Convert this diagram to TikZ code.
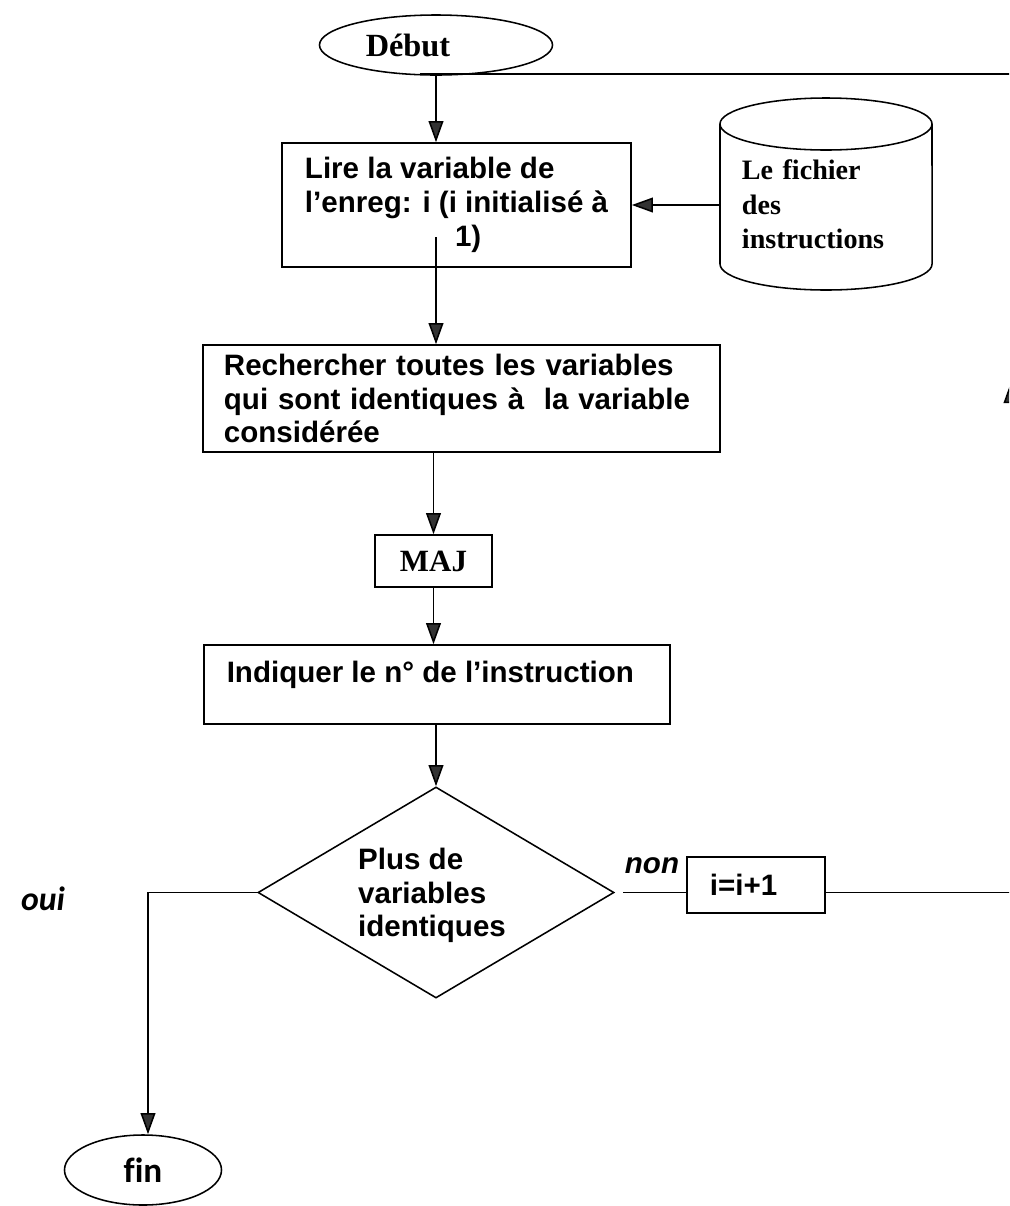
\documentclass[tikz,border=0pt]{standalone}
\usepackage{fontspec}
\setmainfont{Liberation Sans}
\newfontfamily\serfont[Ligatures=NoCommon]{Liberation Serif}
\newfontfamily\calfont[Ligatures=NoCommon]{Carlito}
\usetikzlibrary{shapes.geometric,arrows.meta}
\newcommand\bxfont{\fontsize{21}{24}\selectfont\bfseries}
\newcommand\sbxfont{\serfont\fontsize{20}{24.5}\selectfont\bfseries}
\begin{document}
\begin{tikzpicture}[x=0.025cm,y=-0.025cm,line width=1.1pt,
  arr/.style={-{Triangle[length=15pt,width=10.5pt,fill=black!80]}},
  box/.style={draw,rectangle,inner sep=0pt,font=\bxfont,align=left},
  term/.style={draw,ellipse,inner sep=0pt}]
\useasboundingbox (0,0) rectangle (1009,1206);
\clip (0,0) rectangle (1009,1206);

% start and end
\node[term,minimum width=5.825cm,minimum height=1.5cm,font=\serfont\fontsize{23}{24}\selectfont\bfseries] (deb) at (436,45) {Début\hspace*{1.4cm}};
\node[term,minimum width=3.925cm,minimum height=1.75cm,font=\calfont\fontsize{25}{26}\selectfont\bfseries] (fin) at (143,1170) {fin};

% processing steps
\node[box,minimum width=8.725cm,minimum height=3.1cm] (b1) at (456.5,205)
  {Lire la variable de\\ l’enreg: i (i initialisé à\\ \hspace*{3.75cm}1)};
\node[box,text width=11.875cm,inner xsep=0.525cm,minimum height=2.675cm] (b2) at (461.5,398.5)
  {Rechercher toutes les variables\\ qui sont identiques à~ la variable\\ considérée};
\node[box,minimum width=2.925cm,minimum height=1.3cm,font=\serfont\fontsize{22}{24}\selectfont\bfseries] (maj) at (433.5,561) {MAJ};
\node[box,minimum width=11.65cm,minimum height=1.975cm] (b3) at (437,684.5) {};
\node[font=\bxfont,anchor=west,inner sep=0pt] (t3) at (226,675) {Indiquer le n° de l’instruction};

% decision
\node[draw,diamond,aspect=1.687,inner sep=0pt,minimum width=8.9cm,minimum height=5.275cm] (dia) at (436,892.5) {};
\node[font=\bxfont,align=left,inner sep=0pt] (diatxt) at (432,895.5) {Plus de\\ variables\\ identiques};
\node[box,text width=2.3cm,inner xsep=0.575cm,minimum height=1.4cm] (inc) at (756,885) {i=i+1};

% instruction file (cylinder)
\node[inner sep=0pt,minimum width=5.3cm,minimum height=3.5cm,text width=4.2cm,inner xsep=0.55cm,font=\sbxfont,align=left] (fich) at (826,204.5)
  {Le fichier\\ des\\ instructions};
\draw (720,124) -- (720,264) arc[start angle=180,end angle=360,x radius=2.65cm,y radius=0.65cm] -- (932,124);
\draw (826,124) ellipse [x radius=2.65cm,y radius=0.65cm];

% labels
\node[font=\fontsize{21}{24}\selectfont\bfseries\itshape] (non) at (652,866) {non};
\node[font=\calfont\fontsize{24}{26}\selectfont\bfseries\itshape] (oui) at (43,899) {oui};

% connectors
\draw[arr] (deb.south) -- (deb.south |- b1.north);
\draw[arr] (b1.east -| fich.west) -- (b1.east);
\coordinate (c1) at (436,237);
\draw[arr] (c1) -- (c1 |- b2.north);
\draw[arr] (maj.north |- b2.south) -- (maj.north);
\draw[arr] (maj.south) -- (maj.south |- b3.north);
\draw[arr] (dia.north |- b3.south) -- (dia.north);
\draw[shorten <=6pt] (dia.east) -- (dia.east -| inc.west);
\coordinate (ouiturn) at (148,892.5);
\draw[arr] (dia.west) -- (ouiturn) -- (ouiturn |- fin.north);

% loop back to the start
\coordinate (r1) at (1011,892.5);
\coordinate (rm) at (1011,382);
\coordinate (r2) at (1011,74);
\coordinate (top) at (420,74);
\draw (dia.east -| inc.east) -- (r1);
\draw[arr] (r1) -- (rm);
\draw (rm) -- (r2) -- (top);
\end{tikzpicture}
\end{document}
